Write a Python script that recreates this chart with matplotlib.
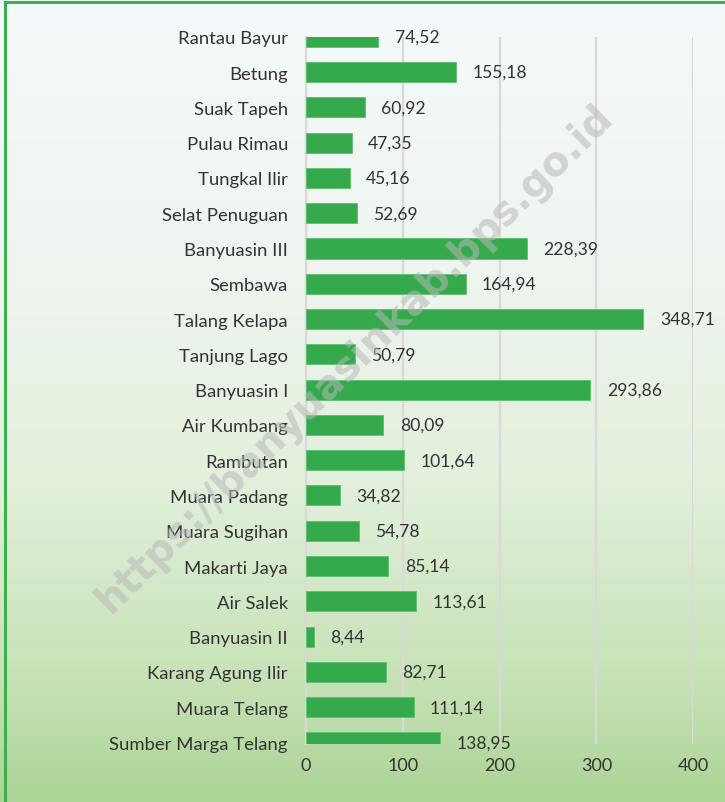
import numpy as np
import matplotlib.pyplot as plt
from matplotlib.colors import LinearSegmentedColormap
from matplotlib.lines import Line2D

plt.rcParams['font.family'] = ['Lato', 'DejaVu Sans']

# data (luas wilayah per kecamatan)
kecamatan = ['Rantau Bayur', 'Betung', 'Suak Tapeh', 'Pulau Rimau', 'Tungkal Ilir',
             'Selat Penuguan', 'Banyuasin III', 'Sembawa', 'Talang Kelapa',
             'Tanjung Lago', 'Banyuasin I', 'Air Kumbang', 'Rambutan', 'Muara Padang',
             'Muara Sugihan', 'Makarti Jaya', 'Air Salek', 'Banyuasin II',
             'Karang Agung Ilir', 'Muara Telang', 'Sumber Marga Telang']
luas = [74.52, 155.18, 60.92, 47.35, 45.16, 52.69, 228.39, 164.94, 348.71,
        50.79, 293.86, 80.09, 101.64, 34.82, 54.78, 85.14, 113.61, 8.44,
        82.71, 111.14, 138.95]
xticks = [0, 100, 200, 300, 400]

fig = plt.figure(figsize=(7.25, 8.03), dpi=100)

# background gradient
bg = fig.add_axes([0, 0, 1, 1], zorder=-2)
cmap = LinearSegmentedColormap.from_list('bg', [(0, '#f5f9fb'), (0.35, '#eef5ef'),
                                                (0.6, '#e3f0dc'), (0.85, '#c6e2b6'),
                                                (1, '#acd496')])
grad = np.linspace(0, 1, 256).reshape(-1, 1)
bg.imshow(grad, aspect='auto', cmap=cmap, extent=[0, 1, 0, 1], origin='upper')
bg.set_xlim(0, 1)
bg.set_ylim(0, 1)
bg.axis('off')

# border (left and top only visible)
fig.add_artist(Line2D([0.0069, 0.0069], [0, 0.9966], color='#3cb04c', lw=2.2))
fig.add_artist(Line2D([0.0069, 1], [0.9966, 0.9966], color='#3cb04c', lw=2.2))

# watermark
fig.text(0.49, 0.553, 'https://banyuasinkab.bps.go.id', rotation=44.5,
         ha='center', va='center', fontsize=29, fontweight='bold',
         color='#b8b8b8', alpha=0.55, family='DejaVu Sans', zorder=5)

ax = fig.add_axes([0.422, 0.072, 0.534, 0.881])
ax.patch.set_alpha(0)
y = np.arange(len(kecamatan))
ax.barh(y, luas, height=0.57, color='#34aa4c', edgecolor='#5cc06c', linewidth=0.6, zorder=3)
ax.set_ylim(20.05, 0)
ax.set_xlim(0, 400)
ax.set_yticks(y)
ax.set_yticklabels(kecamatan, fontsize=13.3, color='#333333')
ax.set_xticks(xticks)
ax.set_xticklabels([str(t) for t in xticks], fontsize=13, color='#333333')
ax.tick_params(length=0, pad=13, axis='y')
ax.tick_params(length=0, pad=9, axis='x')
ax.grid(axis='x', color='#d9d9d9', lw=1.6, zorder=0)
for s in ['top', 'right', 'bottom']:
    ax.spines[s].set_visible(False)
ax.spines['left'].set_color('#d9d9d9')
ax.spines['left'].set_linewidth(1.6)

for yi, v in zip(y, luas):
    ax.text(v + 17, yi, ('%.2f' % v).replace('.', ','), va='center', ha='left',
            fontsize=12.6, color='#333333', clip_on=False, zorder=4)

fig.savefig('out.png', dpi=100)
